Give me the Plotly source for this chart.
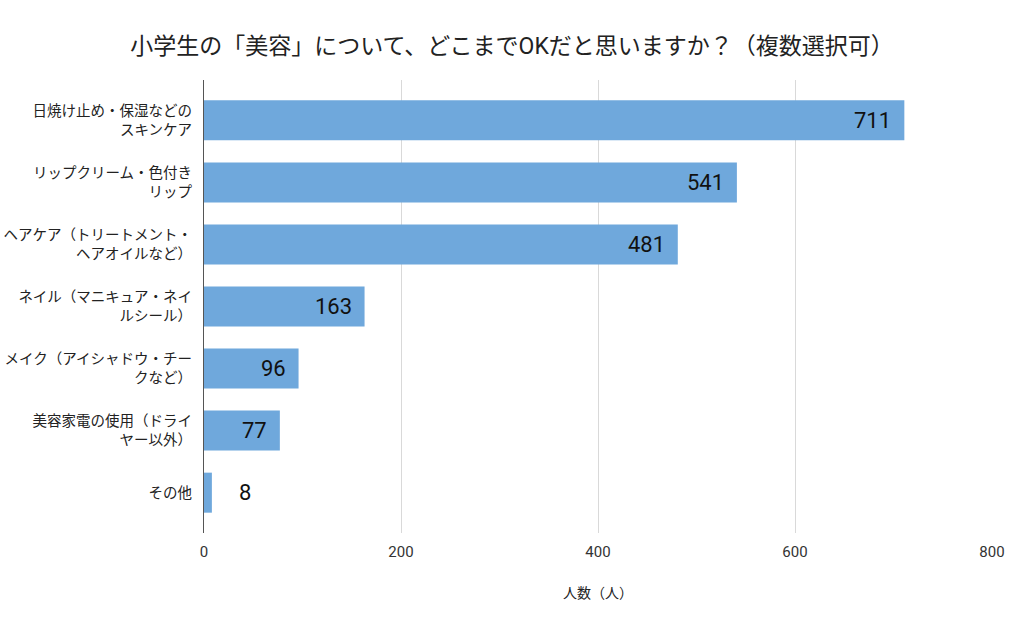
import plotly.graph_objects as go

categories = [
    "日焼け止め・保湿などの<br>スキンケア",
    "リップクリーム・色付き<br>リップ",
    "ヘアケア（トリートメント・<br>ヘアオイルなど）",
    "ネイル（マニキュア・ネイ<br>ルシール）",
    "メイク（アイシャドウ・チー<br>クなど）",
    "美容家電の使用（ドライ<br>ヤー以外）",
    "その他",
]
values = [711, 541, 481, 163, 96, 77, 8]
x_ticks = [0, 200, 400, 600, 800]

title = "小学生の「美容」について、どこまでOKだと思いますか？（複数選択可）"
x_title = "人数（人）"

FONT = "Roboto, 'Noto Sans CJK JP', sans-serif"

fig = go.Figure()
fig.add_trace(go.Bar(
    x=values, y=categories, orientation="h",
    marker=dict(color="#6fa8dc", line=dict(width=0)),
    width=0.645,
    hoverinfo="skip",
))

annotations = []
for c, v in zip(categories, values):
    inside = v > 50
    annotations.append(dict(
        x=v, y=c, xref="x", yref="y",
        text=str(v), showarrow=False,
        xanchor="right" if inside else "left",
        xshift=-11 if inside else 25,
        font=dict(family=FONT, size=22, color="#111"),
    ))

fig.update_layout(
    width=1024, height=633,
    margin=dict(l=204, r=32, t=80, b=100, autoexpand=False),
    paper_bgcolor="white", plot_bgcolor="white",
    title=dict(text=title, x=0.5, xanchor="center", y=0.928, yanchor="middle",
               font=dict(family=FONT, size=23, color="#222")),
    showlegend=False,
    annotations=annotations,
    font=dict(family=FONT, color="#222"),
)
fig.update_xaxes(
    range=[0, 800], tickvals=x_ticks, ticktext=[str(t) for t in x_ticks],
    showgrid=True, gridcolor="#d9d9d9", gridwidth=1,
    zeroline=False, showline=False, automargin=False,
    tickfont=dict(family=FONT, size=15, color="#333"),
    ticks="", ticklabelstandoff=8,
    title=dict(text=x_title, font=dict(family=FONT, size=14, color="#222"), standoff=28),
)
fig.update_yaxes(
    type="category", categoryorder="array", categoryarray=categories,
    range=[6.65, -0.65], automargin=False,
    showline=True, linecolor="#555", linewidth=1,
    showgrid=False, ticks="",
    tickfont=dict(family=FONT, size=14.5, color="#222"),
    ticklabelstandoff=8,
)

fig.write_html("out.html")
